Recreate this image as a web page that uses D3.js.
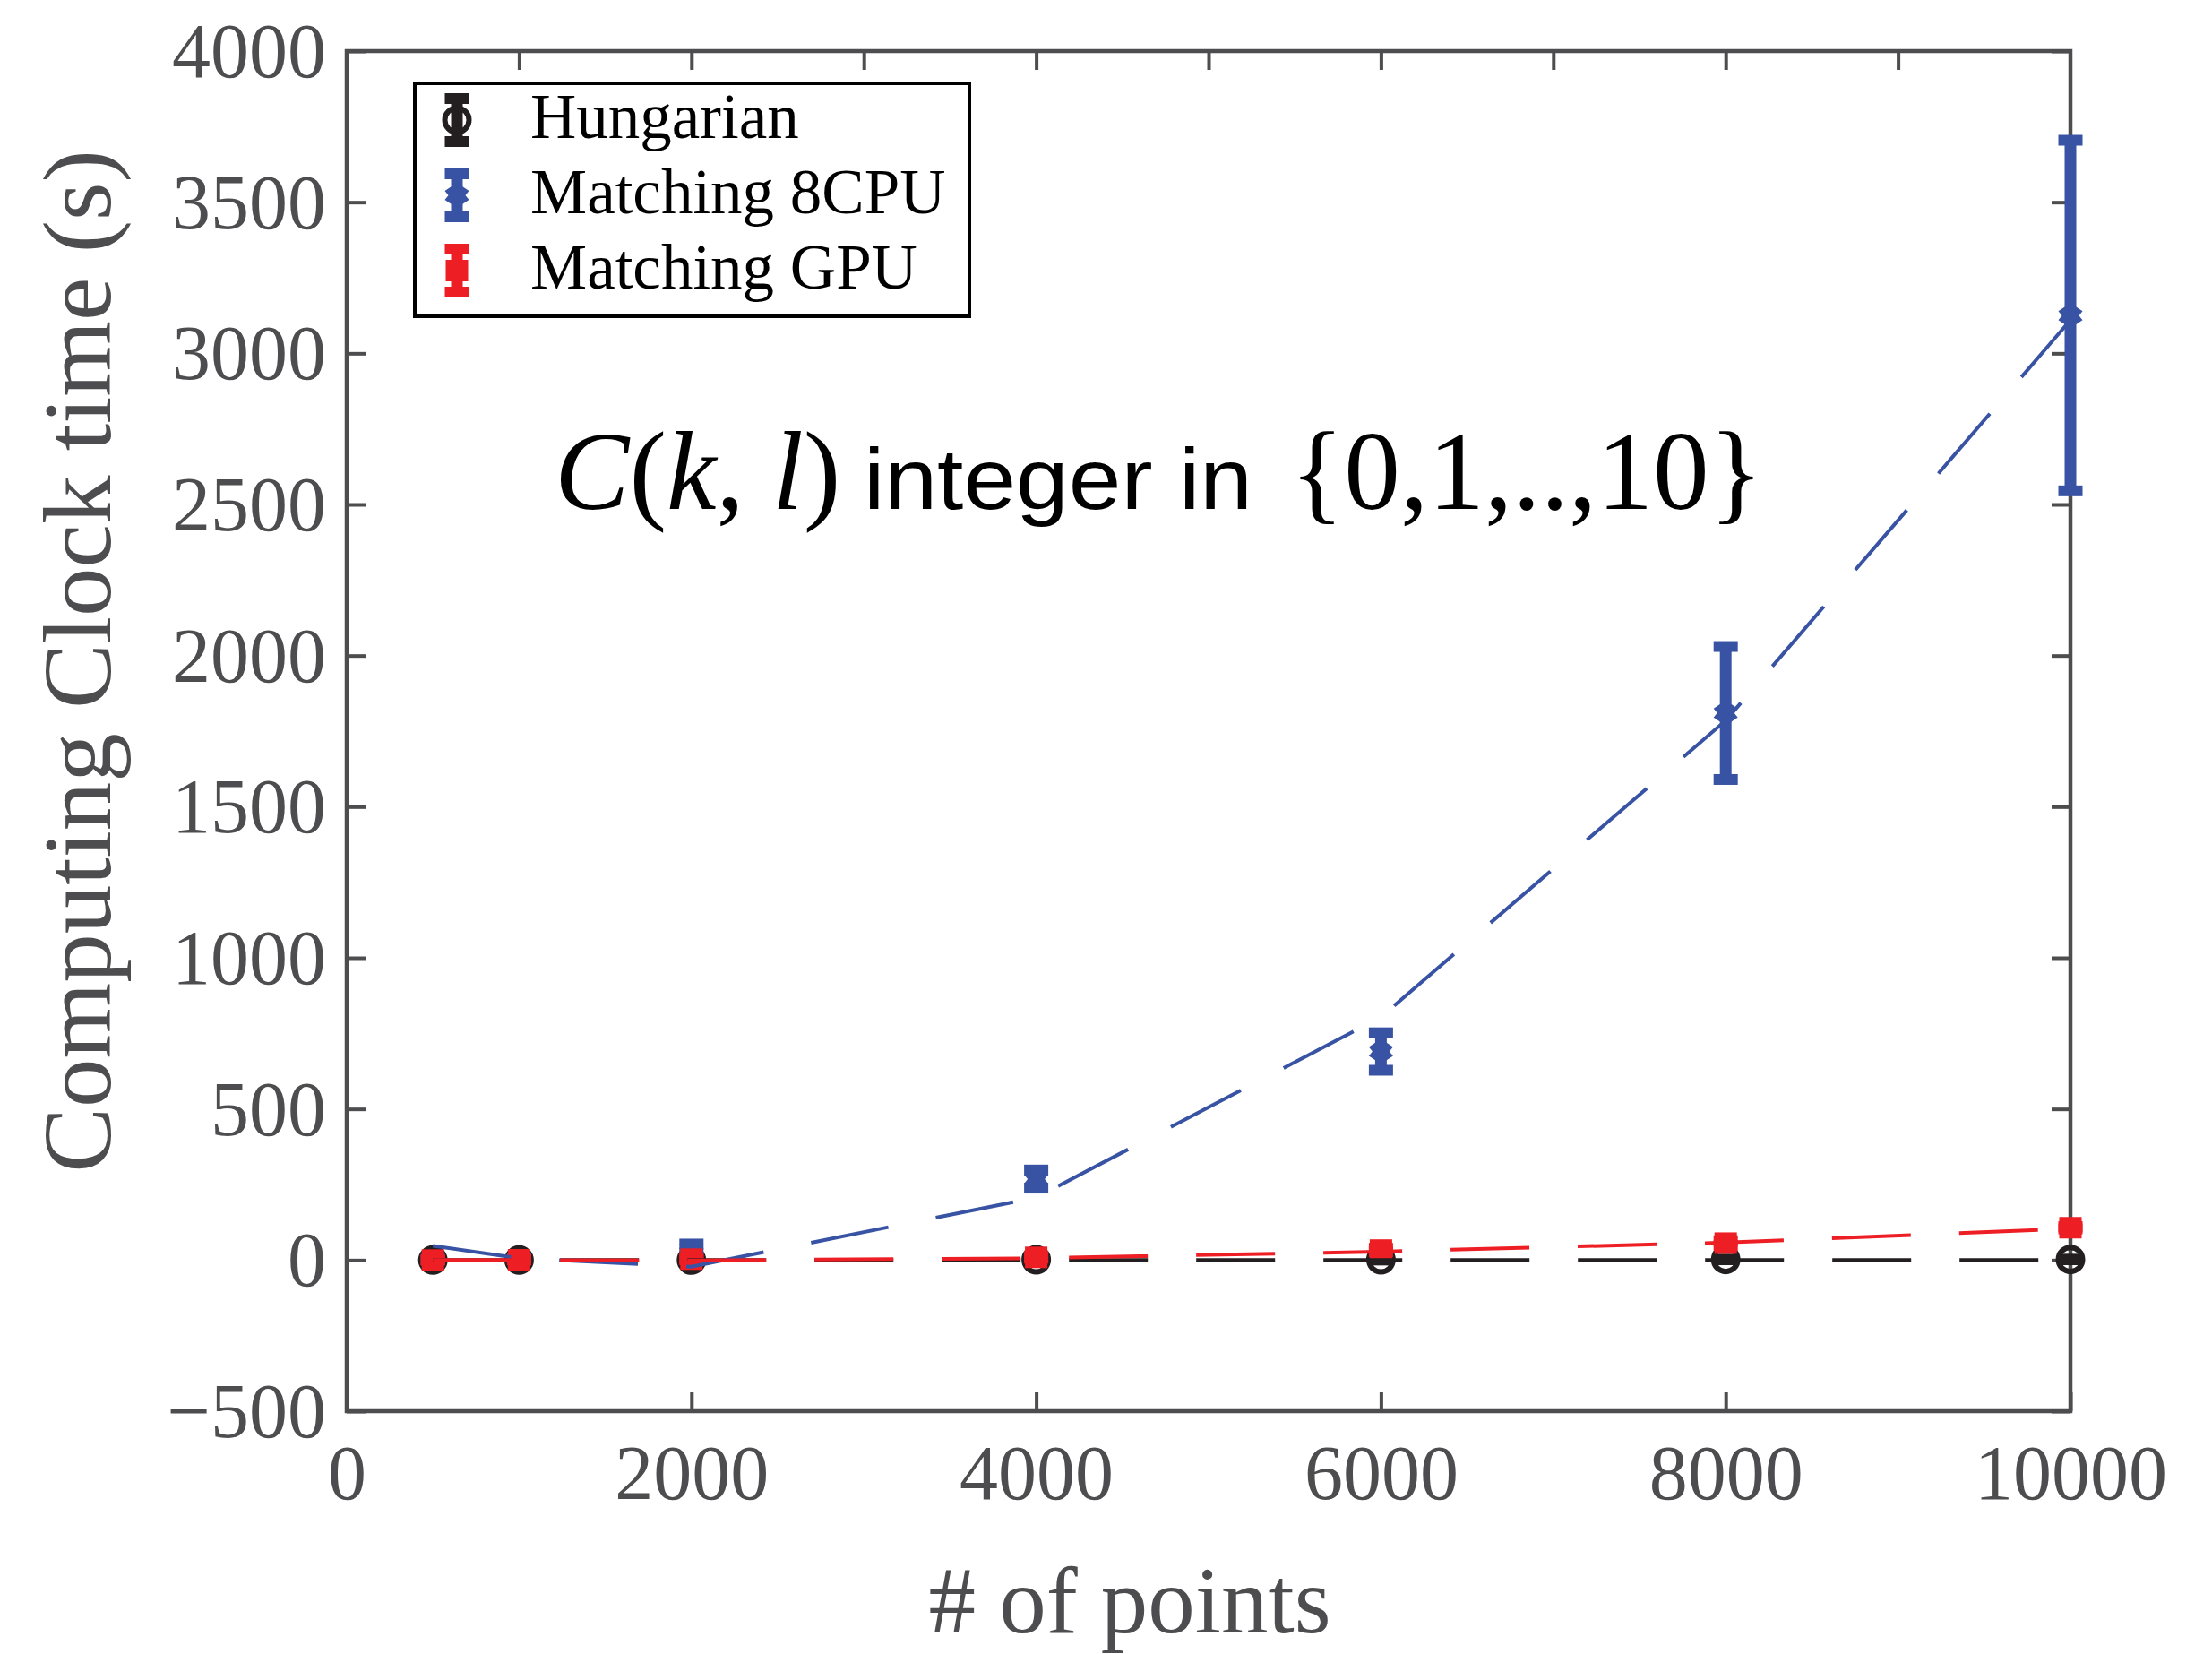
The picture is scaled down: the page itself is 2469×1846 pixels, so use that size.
<!DOCTYPE html>
<html>
<head>
<meta charset="utf-8">
<script src="https://cdn.jsdelivr.net/npm/d3@7"></script>
<style>
  html, body { margin: 0; padding: 0; background: #ffffff; }
  svg { display: block; }
</style>
</head>
<body>
<script>
// ---------------- data ----------------
const xValues = [500, 1000, 2000, 4000, 6000, 8000, 10000];

const hungarianTime = [0, 0, 0, 1, 1, 2, 2];
const hungarianErr  = [0, 0, 0, 1, 1, 1, 1];
const cpuTime = [2, 3, 38, 268, 690, 1810, 3125];
const cpuErr  = [1, 1, 15, 30, 62, 220, 580];
const gpuTime = [0, 1, 3, 9, 33, 56, 107];
const gpuErr  = [1, 1, 2, 3, 6, 8, 4];

// fitted curves (dashed lines) at the same x values
const hungarianFit = [0, 0, 0, 0, 0, 0, 0];
const cpuFit = [47, 6, -22, 207, 804, 1785, 3110];
const gpuFit = [0, 0, -1, 6, 28, 58, 104];

const xTicks = [0, 2000, 4000, 6000, 8000, 10000];
const xTickLabels = ["0", "2000", "4000", "6000", "8000", "10000"];
const xTopTicks = [1000, 2000, 3000, 4000, 5000, 6000, 7000, 8000, 9000];
const yTicks = [-500, 0, 500, 1000, 1500, 2000, 2500, 3000, 3500, 4000];
const yTickLabels = ["\u2212500", "0", "500", "1000", "1500", "2000", "2500", "3000", "3500", "4000"];

const seriesNames = ["Hungarian", "Matching 8CPU", "Matching GPU"];
const xTitle = "# of points";
const yTitle = "Computing Clock time (s)";

(function () {
// ---------------- style ----------------
const W = 2469, H = 1846;
const axisColor = "#4d4d4f";
const colBlack = "#231f20", colBlue = "#3953a4", colRed = "#ed1f24";
const serif = "'Liberation Serif', 'Times New Roman', serif";
const sans = "'Liberation Sans', Arial, sans-serif";

const svg = d3.select("body").append("svg").attr("width", W).attr("height", H);
svg.append("rect").attr("width", W).attr("height", H).attr("fill", "#fff");

const x = d3.scaleLinear().domain([0, 10000]).range([387, 2311]);
const y = d3.scaleLinear().domain([-500, 4000]).range([1575, 57]);

// ---------------- axes ----------------
const gBottom = svg.append("g").attr("transform", `translate(0,${y(-500)})`)
  .call(d3.axisBottom(x).tickValues(xTicks).tickSizeInner(-21).tickSizeOuter(0)
        .tickFormat((d, i) => xTickLabels[i]));
const gTop = svg.append("g").attr("transform", `translate(0,${y(4000)})`)
  .call(d3.axisTop(x).tickValues(xTopTicks).tickSizeInner(-21).tickSizeOuter(0).tickFormat(""));
const gLeft = svg.append("g").attr("transform", `translate(${x(0)},0)`)
  .call(d3.axisLeft(y).tickValues(yTicks).tickSizeInner(-21).tickSizeOuter(0).tickPadding(23)
        .tickFormat((d, i) => yTickLabels[i]));
const gRight = svg.append("g").attr("transform", `translate(${x(10000)},0)`)
  .call(d3.axisRight(y).tickValues(yTicks).tickSizeInner(-21).tickSizeOuter(0).tickFormat(""));

[gBottom, gTop, gLeft, gRight].forEach(g => {
  g.select(".domain").remove();
  g.selectAll(".tick line").attr("stroke", axisColor).attr("stroke-width", 4);
  g.selectAll("text").attr("fill", axisColor).attr("font-family", serif).attr("font-size", 86);
});
gBottom.selectAll("text").attr("y", 98).attr("dy", 0);
gLeft.selectAll("text").attr("dy", "0.33em");

// frame
svg.append("rect")
  .attr("x", x(0)).attr("y", y(4000))
  .attr("width", x(10000) - x(0)).attr("height", y(-500) - y(4000))
  .attr("fill", "none").attr("stroke", axisColor).attr("stroke-width", 4.5);

// titles
svg.append("text").attr("x", 1261).attr("y", 1822).attr("text-anchor", "middle")
  .attr("font-family", serif).attr("font-size", 105).attr("fill", axisColor).text(xTitle);
svg.append("text").attr("transform", "translate(123,738) rotate(-90)").attr("text-anchor", "middle")
  .attr("font-family", serif).attr("font-size", 109).attr("fill", axisColor).text(yTitle);

// ---------------- marks ----------------
const capW = 27, capH = 12, barW = 13;

function diamondPath(cx, cy) {
  const pts = [[-6,-10],[-13.5,-5],[-9.5,0],[-13.5,5],[-6,10],[6,10],[13.5,5],[9.5,0],[13.5,-5],[6,-10]];
  return "M" + pts.map(p => `${cx + p[0]},${cy + p[1]}`).join("L") + "Z";
}

function drawMarker(g, kind, cx, cy, color) {
  if (kind === "circle") {
    g.append("circle").attr("cx", cx).attr("cy", cy).attr("r", 13.5)
      .attr("fill", "none").attr("stroke", color).attr("stroke-width", 6);
  } else if (kind === "diamond") {
    g.append("path").attr("d", diamondPath(cx, cy)).attr("fill", color);
  } else {
    g.append("rect").attr("x", cx - 12.5).attr("y", cy - 12).attr("width", 25).attr("height", 24).attr("fill", color);
  }
}

function drawErrorGlyph(g, cx, yTop, yBot, yMid, kind, color) {
  g.append("line").attr("x1", cx).attr("x2", cx).attr("y1", yTop).attr("y2", yBot)
    .attr("stroke", color).attr("stroke-width", barW);
  [yTop, yBot].forEach(yy => g.append("rect")
    .attr("x", cx - capW / 2).attr("y", yy - capH / 2).attr("width", capW).attr("height", capH)
    .attr("fill", color));
  drawMarker(g, kind, cx, yMid, color);
}

const series = [
  { vals: hungarianTime, err: hungarianErr, fit: hungarianFit, kind: "circle", color: colBlack },
  { vals: cpuTime, err: cpuErr, fit: cpuFit, kind: "diamond", color: colBlue },
  { vals: gpuTime, err: gpuErr, fit: gpuFit, kind: "square", color: colRed }
];

const marks = svg.append("g");
series.forEach(s => {
  const g = marks.append("g");
  xValues.forEach((xv, i) => {
    drawErrorGlyph(g, x(xv), y(s.vals[i] + s.err[i]), y(s.vals[i] - s.err[i]), y(s.vals[i]), s.kind, s.color);
  });
});

const line = d3.line().x((d, i) => x(xValues[i])).y(d => y(d));
series.forEach(s => {
  svg.append("path").attr("d", line(s.fit)).attr("fill", "none")
    .attr("stroke", s.color).attr("stroke-width", 4)
    .attr("stroke-dasharray", "88,54");
});

// ---------------- legend ----------------
const lg = svg.append("g");
lg.append("rect").attr("x", 463).attr("y", 93).attr("width", 619).attr("height", 260)
  .attr("fill", "#fff").attr("stroke", "#000").attr("stroke-width", 4);
const rowY = [134, 218, 302];
series.forEach((s, i) => {
  const cy = rowY[i];
  drawErrorGlyph(lg, 510, cy - 24, cy + 24, cy, s.kind, s.color);
  lg.append("text").attr("x", 592).attr("y", cy + 20)
    .attr("font-family", serif).attr("font-size", 71).attr("fill", "#000")
    .text(seriesNames[i]);
});

// ---------------- annotation ----------------
const ann = svg.append("g").attr("fill", "#000");
const t1 = ann.append("text").attr("x", 619).attr("y", 568)
  .attr("font-family", serif).attr("font-size", 125);
t1.append("tspan").attr("font-style", "italic").text("C");
t1.append("tspan").text("(");
t1.append("tspan").attr("font-style", "italic").text("k");
t1.append("tspan").text(", ");
t1.append("tspan").attr("font-style", "italic").text("l");
t1.append("tspan").text(")");
ann.append("text").attr("x", 964).attr("y", 568)
  .attr("font-family", sans).attr("font-size", 96)
  .attr("textLength", 434).attr("lengthAdjust", "spacingAndGlyphs")
  .text("integer in");
ann.append("text").attr("x", 1440).attr("y", 568)
  .attr("font-family", serif).attr("font-size", 125)
  .attr("textLength", 528).attr("lengthAdjust", "spacingAndGlyphs")
  .text("{0,1,..,10}");
})();
</script>
</body>
</html>
